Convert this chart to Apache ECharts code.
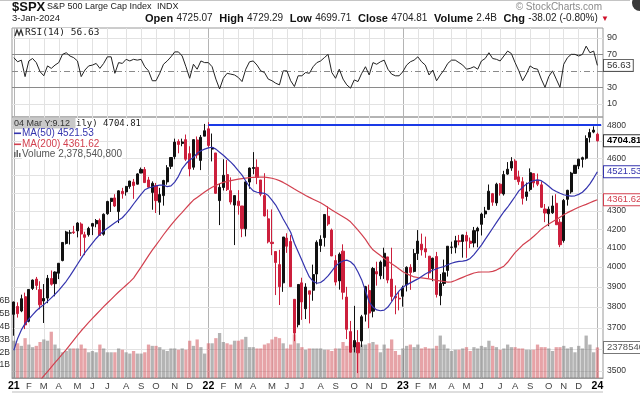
<!DOCTYPE html>
<html>
<head>
<meta charset="utf-8">
<title>$SPX S&amp;P 500 Large Cap Index</title>
<script src="https://cdn.jsdelivr.net/npm/echarts@6/dist/echarts.min.js"></script>
<style>
html,body{margin:0;padding:0;background:#fff;}
#chart{width:640px;height:395px;}
</style>
</head>
<body>
<div id="chart"></div>
<script>
// ---- weekly data (week of Monday 2021-01-04 .. week of 2024-01-01) ----
const openP = [
3764.6,3803,3781,3851,3731,3892,3939,3886,3830,3844,
3942,3916,3969,4034,4124,4179,4185,4191,4228,4170,
4170,4216,4229,4248,4173,4284,4352,4372,4296,4409,
4406,4437,4462,4450,4514,4535,4474,4403,4442,4348,
4385,4463,4553,4610,4701,4689,4712,4628,4548,4710,
4588,4733,
4778,4655,4632,4357,4431,4505,4413,4332,4354,4327,
4202,4462,4541,4547,4474,4385,4256,4130,4081,4013,
3920,4152,4134,3838,3715,3920,3792,3880,3883,3965,
4113,4155,4270,4195,4034,3930,4083,3849,3682,3610,
3630,3638,3765,3882,3780,3977,3956,4005,4053,3939,
3853,3843,
3853,3910,3999,3978,4071,4120,4096,4057,3992,4055,
3856,3917,3983,4103,4103,4138,4134,4166,4136,4126,
4190,4226,4283,4308,4396,4344,4450,4394,4508,4543,
4584,4492,4464,4380,4420,4511,4473,4446,4310,4284,
4289,4342,4238,4139,4364,4406,4512,4555,4594,4601,
4726,4758,
4745];
const closeP = [
3824.7,3768,3841,3714,3887,3934,3907,3811,3842,3943,
3913,3975,4020,4129,4185,4180,4181,4233,4174,4156,
4204,4230,4247,4166,4281,4352,4370,4327,4412,4395,
4437,4468,4442,4509,4535,4459,4433,4455,4357,4391,
4471,4545,4605,4697,4683,4698,4595,4538,4712,4620,
4726,4766,
4677,4663,4398,4432,4501,4419,4349,4385,4329,4204,
4463,4543,4546,4488,4393,4272,4132,4123,4024,3901,
4158,4109,3901,3675,3912,3825,3899,3863,3962,4130,
4145,4280,4228,4058,3924,4067,3873,3693,3586,3640,
3583,3753,3901,3771,3993,3965,4026,4072,3934,3852,
3845,3840,
3895,3999,3973,4071,4136,4090,4079,3970,4046,3862,
3917,3971,4109,4105,4138,4133,4169,4136,4124,4192,
4205,4282,4299,4410,4348,4450,4399,4505,4536,4582,
4478,4464,4370,4406,4516,4457,4450,4320,4288,4309,
4327,4224,4117,4358,4415,4514,4559,4595,4604,4719,
4755,4770,
4704.81];
const lowP = [
3662.7,3749,3775,3694,3726,3884,3885,3789,3723,3819,
3906,3853,3939,4030,4118,4118,4174,4156,4057,4062,
4160,4168,4210,4164,4165,4278,4294,4321,4233,4368,
4385,4424,4367,4448,4513,4457,4428,4306,4288,4278,
4329,4447,4537,4595,4630,4672,4585,4495,4533,4600,
4531,4733,
4662,4582,4395,4222,4414,4411,4335,4115,4279,4157,
4161,4424,4507,4450,4381,4269,4124,4062,3859,3810,
3875,4074,3900,3637,3702,3738,3742,3721,3831,3913,
4079,4107,4218,4057,3907,3886,3837,3647,3585,3585,
3491,3610,3730,3698,3750,3906,3938,3940,3918,3827,
3765,3784,
3802,3877,3885,3973,4037,4060,4048,3943,3928,3847,
3809,3905,3952,4069,4072,4114,4049,4048,4099,4103,
4103,4166,4261,4304,4328,4328,4385,4385,4504,4527,
4474,4446,4335,4356,4409,4431,4439,4316,4238,4216,
4283,4223,4104,4128,4329,4396,4511,4537,4546,4593,
4695,4751,
4699.71];
const highP = [
3826.7,3823,3861,3871,3887,3937,3950,3928,3914,3960,
3983,3978,4021,4131,4191,4195,4218,4238,4237,4186,
4213,4234,4255,4258,4286,4356,4372,4393,4415,4429,
4440,4469,4480,4513,4546,4549,4492,4466,4457,4429,
4475,4560,4608,4718,4714,4718,4743,4672,4713,4731,
4740,4808,
4819,4749,4632,4453,4595,4590,4489,4386,4416,4327,
4465,4546,4637,4594,4474,4513,4308,4308,4082,4090,
4158,4178,4168,3838,3913,3946,3918,3880,4013,4140,
4167,4280,4325,4203,4062,4076,4119,3900,3733,3806,
3689,3762,3905,3911,4001,4028,4034,4101,4053,4101,
3907,3873,
3906,4004,4015,4094,4195,4176,4160,4057,4049,4079,
3965,4039,4110,4133,4164,4169,4170,4186,4155,4212,
4213,4290,4322,4448,4400,4458,4456,4527,4578,4607,
4595,4528,4490,4459,4541,4514,4511,4466,4338,4324,
4385,4393,4255,4366,4418,4521,4560,4598,4610,4738,
4778,4793,
4754];
// volume, billions of shares
const volumeB = [
2.9,2.7,2.5,3.1,2.6,2.4,2.5,2.8,3.0,2.9,
3.6,2.6,2.3,2.0,2.1,2.3,2.3,2.3,2.6,2.3,
2.0,2.1,2.0,2.6,2.3,2.0,2.0,2.0,2.3,2.2,
2.0,1.9,2.1,1.9,1.9,2.0,2.6,2.5,2.5,2.4,
2.2,2.1,2.3,2.3,2.2,2.3,2.2,2.9,2.5,3.0,
2.4,1.9,
2.7,2.7,3.1,3.5,2.8,2.7,2.6,2.9,2.9,3.0,
3.2,2.4,2.4,2.3,2.3,2.6,2.7,3.0,3.2,3.1,
2.7,2.3,2.6,3.4,2.7,2.4,2.2,2.3,2.3,2.3,
2.3,2.2,2.2,2.1,2.3,2.3,2.8,2.5,2.8,2.6,
2.8,2.6,2.6,2.7,2.8,2.6,2.0,2.6,2.3,3.0,
2.1,1.8,
2.3,2.5,2.6,2.4,2.6,2.3,2.4,2.3,2.3,2.5,
3.3,2.6,2.3,2.1,2.2,2.2,2.3,2.4,2.1,2.4,
2.3,2.5,2.4,2.9,2.5,2.4,2.2,2.3,2.6,2.4,
2.4,2.3,2.3,2.2,2.2,2.2,2.6,2.4,2.4,2.3,
2.1,2.4,2.4,2.5,2.3,2.4,2.0,2.5,2.3,3.3,
2.6,2.0,
2.3785408];
const ma50 = [
3595,3650,3690,3720,3742,3762,3782,3798,3812,3828,
3845,3863,3882,3905,3928,3955,3985,4015,4045,4075,
4100,4125,4150,4172,4190,4205,4220,4235,4248,4262,
4285,4310,4338,4365,4392,4418,4428,4434,4440,4444,
4444,4436,4440,4462,4495,4540,4568,4590,4605,4630,
4645,4655,
4662,4666,4655,4636,4618,4598,4578,4555,4528,4502,
4468,4435,4412,4404,4400,4398,4385,4360,4332,4295,
4255,4220,4183,4125,4080,4035,3990,3950,3928,3918,
3922,3936,3955,3980,4005,4022,4032,4036,4028,4010,
3975,3935,3880,3825,3800,3786,3782,3785,3800,3826,
3855,3880,
3898,3910,3920,3930,3940,3952,3965,3975,3984,3992,
3998,4003,4012,4020,4026,4030,4031,4035,4045,4065,
4090,4115,4145,4175,4205,4235,4265,4295,4320,4350,
4380,4412,4432,4450,4462,4470,4475,4470,4455,4438,
4420,4408,4398,4390,4385,4382,4384,4392,4404,4425,
4452,4485,
4521.53];
const ma200 = [
3350,3365,3380,3395,3410,3425,3440,3458,3478,3498,
3518,3538,3558,3578,3598,3620,3642,3664,3686,3706,
3726,3745,3764,3783,3802,3820,3838,3856,3874,3891,
3908,3925,3944,3972,4000,4030,4060,4088,4115,4142,
4170,4196,4222,4246,4270,4292,4315,4338,4360,4375,
4390,4405,
4420,4432,4443,4452,4460,4466,4470,4475,4479,4482,
4485,4487,4489,4490,4491,4490,4488,4484,4478,4470,
4460,4448,4435,4422,4410,4398,4386,4375,4365,4355,
4345,4332,4318,4305,4292,4280,4268,4255,4240,4218,
4195,4170,4145,4115,4090,4075,4060,4045,4030,4018,
4005,3990,
3976,3966,3958,3950,3947,3945,3943,3940,3936,3933,
3930,3927,3924,3925,3932,3940,3948,3956,3963,3970,
3974,3975,3975,3975,3978,3985,3995,4005,4025,4050,
4075,4095,4115,4130,4145,4162,4180,4200,4215,4228,
4240,4252,4265,4278,4290,4300,4310,4320,4328,4336,
4345,4354,
4361.62];
const rsi14 = [
66,61,63,43,62,65,60,49,44,56,
53,57,60,70,72,68,66,62,43,51,
56,57,59,53,59,67,67,47,60,59,
64,62,64,63,64,55,50,38,38,47,
58,62,67,73,73,68,55,41,58,52,
62,60,
60,55,40,28,41,47,46,45,42,37,
52,61,62,57,50,48,40,38,35,33,
50,50,38,31,44,44,48,47,55,60,
62,66,70,48,41,52,40,33,29,39,
37,47,55,45,60,58,61,63,52,46,
44,44,
49,57,61,63,67,61,57,45,51,38,
45,51,59,63,63,60,57,52,53,55,
52,62,65,72,65,64,62,68,74,71,
60,50,38,46,56,53,52,40,30,43,
50,40,30,58,66,70,70,68,70,80,
72,74,
56.63];

// tick values
const priceTicks = [3500,3600,3700,3800,3900,4000,4100,4200,4300,4400,4500,4600,4700,4800];
const priceTickLabels = [3500,3700,3800,3900,4000,4100,4200,4300,4600,4800];
const rsiTicks = [10,30,50,70,90];
const rsiTickLabels = [10,30,70,90];
const volTickLabels = [1,2,3,4,5,6];
const resistanceLevel = 4805;
const resistanceStartWeek = 52;

// last values shown in tags
const lastClose = 4704.81, lastMa50 = 4521.53, lastMa200 = 4361.62, lastRsi = 56.63, lastVolume = 2.3785408;

// ---- categories: one per week ----
const weekCount = 158;
const DAY = 86400000, t0 = Date.UTC(2021, 0, 4);
const cats = [], monthStart = [];
for (let i = 0; i < weekCount; i++) {
  const t = t0 + i * 7 * DAY;
  cats.push(new Date(t).toISOString().slice(0, 10));
  const fri = new Date(t + 4 * DAY), prevFri = new Date(t - 3 * DAY);
  monthStart.push(i === 0 || fri.getUTCMonth() !== prevFri.getUTCMonth());
}
const MONTHS = 'JFMAMJJASOND';
function weekDate(i) { return new Date(t0 + i * 7 * DAY + 4 * DAY); }

const FONT = '"Liberation Sans", Arial, sans-serif';
const MONO = '"DejaVu Sans Mono", monospace';
const RED = '#cc1f3c', BLUE50 = '#3434ae', RED200 = '#d2404f';

const ohlc = openP.map((o, i) => [o, closeP[i], lowP[i], highP[i]]);
const volData = volumeB.map((v, i) => ({
  value: v,
  itemStyle: { color: closeP[i] < openP[i] ? 'rgba(208,78,86,0.52)' : 'rgba(112,112,112,0.52)' }
}));

function monthLines() {
  const out = [];
  for (let i = 0; i < weekCount; i++) if (monthStart[i]) {
    const jan = weekDate(i).getUTCMonth() === 0;
    out.push({ xAxis: cats[i], lineStyle: { color: jan ? '#b4b4b4' : '#e2e2e2', width: 1, type: 'solid' }, label: { show: false } });
  }
  return out;
}
function tag(v, text, color, border, bold) {
  return {
    yAxis: v, lineStyle: { color: 'rgba(255,255,255,0)', width: 1, type: 'solid' },
    label: {
      show: true, position: 'end', distance: 1, formatter: text, color: color, opacity: 1,
      fontFamily: FONT, fontSize: 9.5, fontWeight: bold ? 'bold' : 'normal',
      backgroundColor: '#fff', borderColor: border, borderWidth: 1, padding: [1, 2, 0, 3]
    }
  };
}

const priceMarks = monthLines().concat(priceTicks.map(v => ({
  yAxis: v, lineStyle: { color: '#e2e2e2', width: 1, type: 'solid' },
  label: { show: priceTickLabels.indexOf(v) >= 0, position: 'end', distance: 4, formatter: String(v),
    color: '#333', fontFamily: FONT, fontSize: 8.5 }
})));
const resistance = [ { coord: [cats[resistanceStartWeek], resistanceLevel], lineStyle: { color: '#1a3ae6', width: 2, type: 'solid' }, label: { show: false } },
                     { coord: [cats[weekCount - 1], resistanceLevel] } ];
const tagMarks = [
  tag(lastClose, lastClose.toFixed(2), '#000', '#333', true),
  tag(lastMa50, lastMa50.toFixed(2), BLUE50, BLUE50, false),
  tag(lastMa200, lastMa200.toFixed(2), RED200, RED200, false)
];

const rsiMarks = monthLines().concat(rsiTicks.map(v => ({
  yAxis: v,
  lineStyle: (v === 30 || v === 70) ? { color: '#8a8a8a', width: 1, type: 'solid' }
    : (v === 50 ? { color: '#8a8a8a', width: 1, type: [6, 3, 1, 3] } : { color: '#e2e2e2', width: 1, type: 'solid' }),
  label: { show: rsiTickLabels.indexOf(v) >= 0, position: 'end', distance: 4, formatter: String(v),
    color: '#333', fontFamily: FONT, fontSize: 9 }
})));

const chart = echarts.init(document.getElementById('chart'), null, { renderer: 'canvas' });
const TZ = 50;
chart.setOption({
  animation: false,
  backgroundColor: '#fff',
  textStyle: { fontFamily: FONT },
  grid: [
    { left: 12, right: 37, top: 117, height: 261, show: true, borderColor: '#9a9a9a', borderWidth: 1, backgroundColor: 'transparent', outerBoundsMode: 'none', containLabel: false },
    { left: 12, right: 37, top: 28, height: 89, show: true, borderColor: '#9a9a9a', borderWidth: 1, backgroundColor: 'transparent', outerBoundsMode: 'none', containLabel: false }
  ],
  xAxis: [
    { type: 'category', gridIndex: 0, data: cats, boundaryGap: true,
      axisLine: { show: true, lineStyle: { color: '#9a9a9a' } }, axisTick: { show: false }, splitLine: { show: false },
      axisLabel: {
        show: true, margin: 3, hideOverlap: false,
        interval: (idx) => monthStart[idx],
        formatter: (value, idx) => {
          const d = weekDate(idx), m = d.getUTCMonth();
          return m === 0 ? '{y|' + String(d.getUTCFullYear()).slice(2) + '}' : '{m|' + MONTHS[m] + '}';
        },
        rich: {
          y: { fontFamily: FONT, fontSize: 10.5, fontWeight: 'bold', color: '#000' },
          m: { fontFamily: FONT, fontSize: 9.5, color: '#444' }
        }
      } },
    { type: 'category', gridIndex: 1, data: cats, boundaryGap: true,
      axisLine: { show: false }, axisTick: { show: false }, axisLabel: { show: false }, splitLine: { show: false } }
  ],
  yAxis: [
    { type: 'log', logBase: 10, gridIndex: 0, min: 3469, max: 4851, position: 'right',
      axisLine: { show: false }, axisTick: { show: false }, axisLabel: { show: false }, splitLine: { show: false } },
    { type: 'value', gridIndex: 0, min: 0, max: 20.3, interval: 1, position: 'left',
      axisLine: { show: false }, axisTick: { show: false }, splitLine: { show: false },
      axisLabel: { show: true, margin: 2, fontSize: 8.5, color: '#333', fontFamily: FONT,
        formatter: v => (volTickLabels.indexOf(v) >= 0 ? v + 'B' : '') } },
    { type: 'value', gridIndex: 1, min: -6, max: 102,
      axisLine: { show: false }, axisTick: { show: false }, axisLabel: { show: false }, splitLine: { show: false } }
  ],
  series: [
    { name: 'Volume', type: 'bar', xAxisIndex: 0, yAxisIndex: 1, data: volData, barCategoryGap: '12%',
      markLine: { silent: true, symbol: ['none', 'none'], z: 6, animation: false,
        data: [tag(lastVolume, '2378540,800', '#555', '#777', false)] } },
    { name: 'SPX', type: 'candlestick', xAxisIndex: 0, yAxisIndex: 0, data: ohlc, barWidth: '70%',
      itemStyle: { color: '#111', color0: RED, borderColor: '#111', borderColor0: RED, borderColorDoji: '#111', borderWidth: 1 } },
    { name: 'MA(200)', type: 'line', xAxisIndex: 0, yAxisIndex: 0, data: ma200, showSymbol: false, symbol: 'none',
      lineStyle: { color: RED200, width: 1.2 }, z: 3,
      markLine: { silent: true, symbol: ['none', 'none'], z: 1, animation: false, data: priceMarks } },
    { name: 'MA(50)', type: 'line', xAxisIndex: 0, yAxisIndex: 0, data: ma50, showSymbol: false, symbol: 'none',
      lineStyle: { color: BLUE50, width: 1.2 }, z: 3,
      markLine: { silent: true, symbol: ['none', 'none'], z: 4, animation: false, data: tagMarks.concat([resistance]) } },
    { name: 'RSI(14)', type: 'line', xAxisIndex: 1, yAxisIndex: 2, data: rsi14, showSymbol: false, symbol: 'none',
      lineStyle: { color: '#222', width: 1 },
      markLine: { silent: true, symbol: ['none', 'none'], z: 1, animation: false, data: rsiMarks } },
    { name: 'RSI tag', type: 'line', xAxisIndex: 1, yAxisIndex: 2, data: [], showSymbol: false, symbol: 'none',
      markLine: { silent: true, symbol: ['none', 'none'], z: 6, animation: false, data: [tag(lastRsi, lastRsi.toFixed(2), '#333', '#555', false)] } }
  ],
  graphic: { elements: [
    { type: 'rect', z: TZ, shape: { x: 0, y: 0, width: 630, height: 1 }, style: { fill: '#c4c4c4' }, silent: true },
    { type: 'circle', z: TZ, shape: { cx: 640, cy: 3, r: 8 }, style: { fill: '#3a3a3a' }, silent: true },
    { type: 'text', z: TZ, x: 12, y: 7, style: { text: '$SPX', font: 'bold 13px ' + FONT, fill: '#111', verticalAlign: 'middle' } },
    { type: 'text', z: TZ, x: 47, y: 7, style: { text: 'S&P 500 Large Cap Index', font: '9px ' + FONT, fill: '#222', verticalAlign: 'middle' } },
    { type: 'text', z: TZ, x: 157, y: 7, style: { text: 'INDX', font: '9px ' + FONT, fill: '#222', verticalAlign: 'middle' } },
    { type: 'text', z: TZ, x: 602, y: 7, style: { text: '\u00a9 StockCharts.com', font: '10px ' + FONT, fill: '#8a8a8a', align: 'right', verticalAlign: 'middle' } },
    { type: 'text', z: TZ, x: 12, y: 18.5, style: { text: '3-Jan-2024', font: '9.5px ' + FONT, fill: '#222', verticalAlign: 'middle' } },
    { type: 'text', z: TZ, x: 145, y: 18.5, style: {
        text: '{b|Open} {n|4725.07}  {b|High} {n|4729.29}  {b|Low} {n|4699.71}  {b|Close} {n|4704.81}  {b|Volume} {n|2.4B}  {b|Chg} {n|-38.02 (-0.80%)} {r|\u25bc}',
        verticalAlign: 'middle',
        rich: {
          b: { fontFamily: FONT, fontSize: 11, fontWeight: 'bold', fill: '#111' },
          n: { fontFamily: FONT, fontSize: 10, fill: '#222' },
          r: { fontFamily: FONT, fontSize: 8, fill: '#d0102a' }
        } } },
    // RSI panel title
    { type: 'polyline', z: TZ, shape: { points: [[15, 36], [17, 30], [19, 35], [21, 30], [23, 36]] }, style: { stroke: '#333', lineWidth: 1.3, fill: null } },
    { type: 'text', z: TZ, x: 25, y: 33, style: { text: 'RSI(14) 56.63', font: '9.5px ' + MONO, fill: '#222', verticalAlign: 'middle', backgroundColor: '#fff' } },
    // main panel legend
    { type: 'rect', z: TZ, shape: { x: 12.5, y: 117.5, width: 63, height: 11.5 }, style: { fill: '#c9c9c9' } },
    { type: 'text', z: TZ, x: 14, y: 123.5, style: { text: '04 Mar Y:9.12', font: '9px ' + FONT, fill: '#333', verticalAlign: 'middle' } },
    { type: 'text', z: TZ, x: 76, y: 123.5, style: { text: 'ily) 4704.81', font: '9px ' + MONO, fill: '#222', verticalAlign: 'middle', backgroundColor: '#fff' } },
    { type: 'rect', z: TZ, shape: { x: 14, y: 132.5, width: 7, height: 1.6 }, style: { fill: BLUE50 } },
    { type: 'text', z: TZ, x: 22, y: 133.5, style: { text: 'MA(50) 4521.53', font: '10px ' + FONT, fill: BLUE50, verticalAlign: 'middle', backgroundColor: '#fff' } },
    { type: 'rect', z: TZ, shape: { x: 14, y: 143.5, width: 7, height: 1.6 }, style: { fill: RED200 } },
    { type: 'text', z: TZ, x: 22, y: 144.5, style: { text: 'MA(200) 4361.62', font: '10px ' + FONT, fill: RED200, verticalAlign: 'middle', backgroundColor: '#fff' } },
    { type: 'rect', z: TZ, shape: { x: 14, y: 152, width: 1.5, height: 5 }, style: { fill: '#666' } },
    { type: 'rect', z: TZ, shape: { x: 16.5, y: 150, width: 1.5, height: 7 }, style: { fill: '#666' } },
    { type: 'rect', z: TZ, shape: { x: 19, y: 153, width: 1.5, height: 4 }, style: { fill: '#666' } },
    { type: 'text', z: TZ, x: 22, y: 154.5, style: { text: 'Volume 2,378,540,800', font: '10px ' + FONT, fill: '#555', verticalAlign: 'middle', backgroundColor: '#fff' } },
    { type: 'rect', z: TZ, shape: { x: 12, y: 391.5, width: 591, height: 1 }, style: { fill: '#bdbdbd' } }
  ] }
});
</script>
</body>
</html>
